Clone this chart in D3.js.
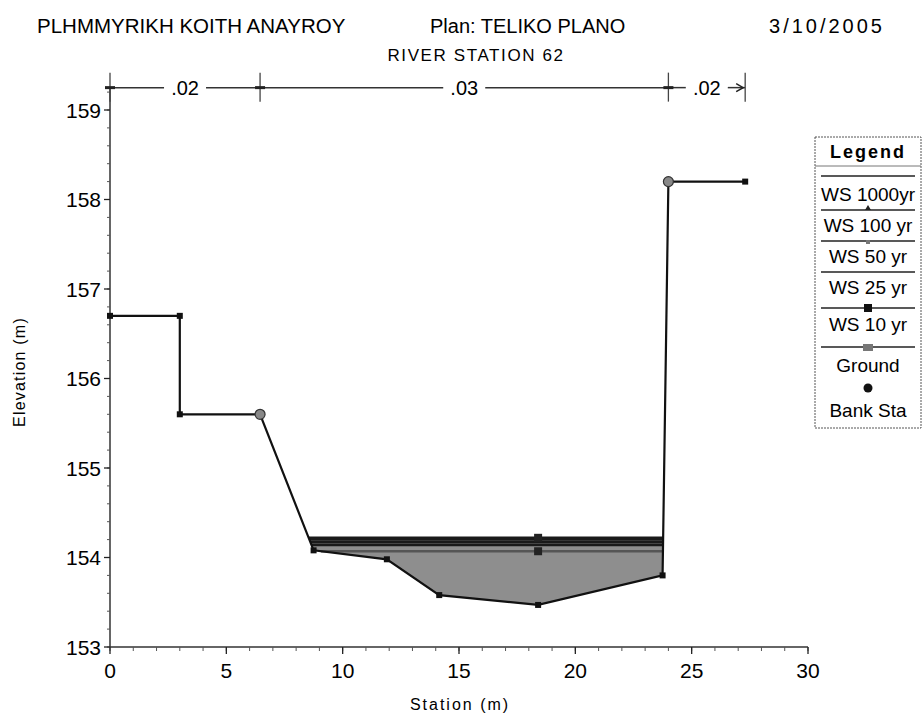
<!DOCTYPE html>
<meta charset="utf-8">
<style>
  body { margin: 0; background: #fff; }
  svg { font-family: "Liberation Sans", Arial, sans-serif; }
</style>
<body>
<div id="chart"></div>
<script src="https://d3js.org/d3.v7.min.js"></script>
<script>
// ground profile (station m, elevation m)
const groundSta = [0, 3, 3, 6.45, 8.75, 11.9, 14.15, 18.4, 23.75, 24.0, 27.3];
const groundElev = [156.7, 156.7, 155.6, 155.6, 154.08, 153.98, 153.58, 153.47, 153.8, 158.2, 158.2];
// bank stations
const bankSta = [6.45, 24.0];
const bankElev = [155.6, 158.2];
// water surfaces
const wsNames = ["WS 1000yr", "WS 100 yr", "WS 50 yr", "WS 25 yr", "WS 10 yr"];
const wsElev = [154.22, 154.2, 154.17, 154.14, 154.07];
// manning n segments
const nSta = [0, 6.45, 24.0, 27.3];
const nVals = [".02", ".03", ".02"];
// ticks
const xTicks = [0, 5, 10, 15, 20, 25, 30];
const yTicks = [153, 154, 155, 156, 157, 158, 159];

const width = 923, height = 720;
const svg = d3.select("#chart").append("svg")
  .attr("width", width).attr("height", height);

const x = d3.scaleLinear().domain([0, 30]).range([110, 808]);
const y = d3.scaleLinear().domain([153, 159]).range([647, 110]);
const yTop = y(159.25);

// titles
svg.append("text").attr("x", 37).attr("y", 33).attr("font-size", 20.5).text("PLHMMYRIKH KOITH ANAYROY");
svg.append("text").attr("x", 430).attr("y", 33).attr("font-size", 20).text("Plan: TELIKO PLANO");
svg.append("text").attr("x", 885).attr("y", 33).attr("font-size", 20).attr("text-anchor", "end")
  .attr("letter-spacing", 3).text("3/10/2005");
svg.append("text").attr("x", 476).attr("y", 61).attr("font-size", 17).attr("text-anchor", "middle")
  .attr("letter-spacing", 1.6).text("RIVER STATION 62");

// axes
const yAxis = svg.append("g").attr("transform", `translate(${x(0)},0)`);
yAxis.append("line").attr("y1", yTop).attr("y2", y(153)).attr("stroke", "#333").attr("stroke-width", 1.5);
yAxis.selectAll(".minor").data(d3.range(153, 159.21, 0.2)).join("line")
  .attr("x1", -3).attr("x2", 0).attr("y1", d => y(d)).attr("y2", d => y(d)).attr("stroke", "#555");
yAxis.selectAll(".major").data(yTicks).join("line")
  .attr("x1", -6).attr("x2", 0).attr("y1", d => y(d)).attr("y2", d => y(d)).attr("stroke", "#222").attr("stroke-width", 1.3);
yAxis.selectAll("text").data(yTicks).join("text")
  .attr("x", -9).attr("y", d => y(d) + 7.5).attr("text-anchor", "end").attr("font-size", 21)
  .text(d => d);

const xAxis = svg.append("g").attr("transform", `translate(0,${y(153)})`);
xAxis.append("line").attr("x1", x(0)).attr("x2", x(30)).attr("stroke", "#333").attr("stroke-width", 1.5);
xAxis.selectAll(".minor").data(d3.range(0, 30.1, 1)).join("line")
  .attr("x1", d => x(d)).attr("x2", d => x(d)).attr("y1", 0).attr("y2", 4).attr("stroke", "#555");
xAxis.selectAll(".major").data(xTicks).join("line")
  .attr("x1", d => x(d)).attr("x2", d => x(d)).attr("y1", 0).attr("y2", 7).attr("stroke", "#222").attr("stroke-width", 1.3);
xAxis.selectAll("text").data(xTicks).join("text")
  .attr("x", d => x(d)).attr("y", 31).attr("text-anchor", "middle").attr("font-size", 21)
  .text(d => d);

svg.append("text").attr("x", 460).attr("y", 710).attr("text-anchor", "middle").attr("font-size", 16)
  .attr("letter-spacing", 2).text("Station (m)");
svg.append("text").attr("transform", "translate(25,372) rotate(-90)").attr("text-anchor", "middle")
  .attr("font-size", 16).attr("letter-spacing", 1.2).text("Elevation (m)");

// manning n line
const nY = yTop;
const ng = svg.append("g");
nSta.slice(0, -1).forEach((s, i) => {
  const x0 = x(s), x1 = x(nSta[i + 1]), xm = (x0 + x1) / 2;
  const half = 21;
  ng.append("line").attr("x1", x0).attr("x2", xm - half).attr("y1", nY).attr("y2", nY).attr("stroke", "#333").attr("stroke-width", 1.5);
  ng.append("line").attr("x1", xm + half).attr("x2", x1).attr("y1", nY).attr("y2", nY).attr("stroke", "#333").attr("stroke-width", 1.5);
  ng.append("text").attr("x", xm).attr("y", nY + 7).attr("text-anchor", "middle").attr("font-size", 20).text(nVals[i]);
});
ng.selectAll(".tk").data(nSta).join("line")
  .attr("x1", d => x(d)).attr("x2", d => x(d)).attr("y1", nY - 15).attr("y2", nY + 14)
  .attr("stroke", "#444").attr("stroke-width", 1.3);
ng.selectAll(".cr").data(nSta.slice(0, -1)).join("line")
  .attr("x1", d => x(d) - 5).attr("x2", d => x(d) + 5).attr("y1", nY).attr("y2", nY)
  .attr("stroke", "#222").attr("stroke-width", 3);
// arrow on last segment
const xe = x(nSta[nSta.length - 1]);
ng.append("path").attr("d", `M${xe - 9},${nY - 4} L${xe - 2},${nY} L${xe - 9},${nY + 4}`)
  .attr("fill", "none").attr("stroke", "#222").attr("stroke-width", 1.5);

// water area under the highest water surface
const ground = groundSta.map((s, i) => [s, groundElev[i]]);
function wetted(level) {
  const pts = [];
  let left = null, right = null;
  for (let i = 0; i < ground.length - 1; i++) {
    const [s0, e0] = ground[i], [s1, e1] = ground[i + 1];
    if (e0 > level && e1 <= level && left === null) {
      left = [s0 + (level - e0) / (e1 - e0) * (s1 - s0), level];
      pts.push(left);
    }
    if (left !== null && right === null && e1 <= level) pts.push([s1, e1]);
    if (left !== null && right === null && e0 <= level && e1 > level) {
      right = [s0 + (level - e0) / (e1 - e0) * (s1 - s0), level];
      pts.push(right);
    }
  }
  return { pts, left, right };
}
const wetTop = wetted(wsElev[0]);
svg.append("path")
  .attr("d", d3.line()(wetTop.pts.map(p => [x(p[0]), y(p[1])])) + "Z")
  .attr("fill", "#8e8e8e");

// water surface lines
wsElev.forEach((lv, i) => {
  const w = wetted(lv);
  svg.append("line").attr("x1", x(w.left[0])).attr("x2", x(w.right[0]))
    .attr("y1", y(lv)).attr("y2", y(lv))
    .attr("stroke", i === wsElev.length - 1 ? "#555" : "#1a1a1a").attr("stroke-width", 2.4);
});
// markers on top and bottom water surfaces
[wsElev[0], wsElev[wsElev.length - 1]].forEach(lv => {
  svg.append("rect").attr("x", x(18.4) - 4).attr("y", y(lv) - 4).attr("width", 8).attr("height", 8).attr("fill", "#222");
});

// ground line
svg.append("path")
  .attr("d", d3.line()(ground.map(p => [x(p[0]), y(p[1])])))
  .attr("fill", "none").attr("stroke", "#111").attr("stroke-width", 2.2);
svg.selectAll(".gpt").data(ground).join("rect")
  .attr("x", d => x(d[0]) - 3).attr("y", d => y(d[1]) - 3)
  .attr("width", 6).attr("height", 6).attr("fill", "#111");

// bank stations
svg.selectAll(".bank").data(bankSta).join("circle")
  .attr("cx", d => x(d)).attr("cy", (d, i) => y(bankElev[i]))
  .attr("r", 5).attr("fill", "#888").attr("stroke", "#333").attr("stroke-width", 1.2);

// legend
const lg = svg.append("g");
const lx0 = 815, lx1 = 921;
const cx = (lx0 + lx1) / 2;
lg.append("rect").attr("x", lx0).attr("y", 137).attr("width", lx1 - lx0).attr("height", 291)
  .attr("fill", "#fff").attr("stroke", "#555").attr("stroke-dasharray", "2,1");
lg.append("text").attr("x", cx).attr("y", 158).attr("text-anchor", "middle")
  .attr("font-size", 18).attr("font-weight", "bold").attr("letter-spacing", 2).text("Legend");
lg.append("line").attr("x1", lx0).attr("x2", lx1).attr("y1", 166).attr("y2", 166).attr("stroke", "#777");
const legNames = wsNames.concat(["Ground", "Bank Sta"]);
const symY = [176, 210, 241, 272, 308, 347, 388];
const labY = [201, 232, 263, 294, 331, 372, 417];
svg.append("clipPath").attr("id", "legclip").append("rect")
  .attr("x", lx0).attr("y", 137).attr("width", lx1 - lx0 - 1).attr("height", 291);
legNames.forEach((name, i) => {
  if (i < 6) {
    lg.append("line").attr("x1", lx0 + 6).attr("x2", lx1 - 6).attr("y1", symY[i]).attr("y2", symY[i])
      .attr("stroke", "#222").attr("stroke-width", 1.6);
  }
  if (i === 1) lg.append("path").attr("d", `M${cx - 3},${symY[i]} L${cx},${symY[i] - 5} L${cx + 3},${symY[i]}Z`).attr("fill", "#222");
  if (i === 2) lg.append("rect").attr("x", cx - 2).attr("y", symY[i] - 1).attr("width", 4).attr("height", 4).attr("fill", "#777");
  if (i === 4) lg.append("rect").attr("x", cx - 4).attr("y", symY[i] - 4).attr("width", 8).attr("height", 8).attr("fill", "#111");
  if (i === 5) lg.append("rect").attr("x", cx - 5).attr("y", symY[i] - 3).attr("width", 10).attr("height", 7).attr("fill", "#777");
  if (i === 6) lg.append("circle").attr("cx", cx).attr("cy", symY[i]).attr("r", 4.5).attr("fill", "#111");
  lg.append("text").attr("x", cx).attr("y", labY[i]).attr("clip-path", "url(#legclip)")
    .attr("text-anchor", "middle").attr("font-size", 19).text(name);
});
</script>
</body>
